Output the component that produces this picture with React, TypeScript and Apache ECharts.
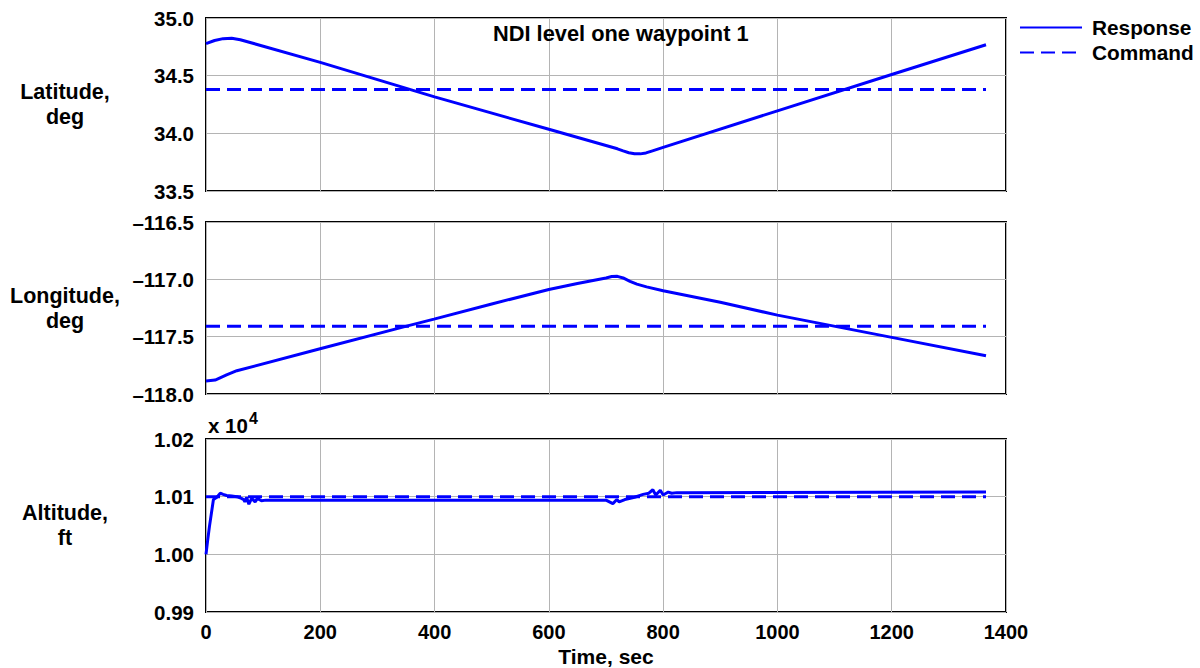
import React, { useEffect, useRef } from "react";
import * as echarts from "echarts";

// ---- Data ----
const xTicks = [0, 200, 400, 600, 800, 1000, 1200, 1400];

const latTime = [0, 15, 30, 45, 60, 200, 400, 600, 700, 720, 730, 740, 750, 760, 770, 780, 800, 1000, 1200, 1365];
const latResponse = [34.777, 34.805, 34.821, 34.824, 34.812, 34.615, 34.316, 34.035, 33.895, 33.866, 33.848, 33.832, 33.823, 33.822, 33.83, 33.846, 33.878, 34.195, 34.51, 34.768];
const latCmdTime = [0, 1365];
const latCommand = [34.38, 34.38];

const lonTime = [0, 16, 36, 54, 198, 351, 399, 500, 600, 650, 700, 710, 720, 730, 742, 754, 771, 800, 900, 1000, 1200, 1365];
const lonResponse = [-117.886, -117.878, -117.834, -117.797, -117.608, -117.408, -117.347, -117.215, -117.088, -117.036, -116.988, -116.976, -116.974, -116.988, -117.018, -117.042, -117.066, -117.1, -117.2, -117.312, -117.506, -117.666];
const lonCmdTime = [0, 1365];
const lonCommand = [-117.41, -117.41];

const altTime = [0, 3, 6, 13, 19, 25, 30, 36, 45, 54, 62, 66, 68, 71, 75, 80, 86, 90, 97, 105, 120, 700, 712, 719, 723, 733, 750, 765, 775, 782, 787, 795, 800, 809, 815, 824, 1365];
const altResponse = [10000, 10025, 10048, 10095, 10099, 10106, 10104, 10102, 10101, 10100, 10097, 10095, 10091, 10099, 10087, 10097, 10091, 10097, 10093, 10094, 10094, 10094, 10088, 10095, 10091, 10095, 10099, 10104, 10106, 10112, 10103, 10111, 10103, 10108, 10106, 10107, 10108];
const altCmdTime = [0, 1365];
const altCommand = [10100, 10100];

const FONT = "'Liberation Sans', Arial, Helvetica, sans-serif";
const BLUE = "#0000ff";

const zip = (t: number[], v: number[]) => t.map((x, i) => [x, v[i]]);

export default function App() {
  const ref = useRef<HTMLDivElement>(null);
  useEffect(() => {
    if (!ref.current) return;
    const chart = echarts.init(ref.current, undefined, { renderer: "svg" });

    const grids = [
      { left: 206, width: 800, top: 18, height: 173 },
      { left: 206, width: 800, top: 222, height: 172 },
      { left: 206, width: 800, top: 439, height: 173 },
    ].map((g) => ({ ...g, show: true, borderColor: "#000", borderWidth: 2, backgroundColor: "transparent" }));

    const xAxis = [0, 1, 2].map((i) => ({
      type: "value",
      gridIndex: i,
      min: xTicks[0],
      max: xTicks[xTicks.length - 1],
      interval: 200,
      axisLine: { show: false },
      axisTick: { show: false },
      splitLine: { show: true, lineStyle: { color: "#b4b4b4", width: 1 } },
      axisLabel: {
        show: i === 2,
        margin: 10,
        fontSize: 20,
        fontWeight: "bold",
        fontFamily: FONT,
        color: "#000",
        formatter: (v: number) => String(v),
      },
      name: i === 2 ? "Time, sec" : "",
      nameLocation: "middle",
      nameGap: 34,
      nameTextStyle: { fontSize: 21, fontWeight: "bold", fontFamily: FONT, color: "#000" },
    }));

    const yCommon = {
      type: "value",
      axisLine: { show: false },
      axisTick: { show: false },
      splitLine: { show: true, lineStyle: { color: "#b4b4b4", width: 1 } },
      nameLocation: "middle",
      nameRotate: 0,
      nameGap: 141,
      nameTextStyle: {
        fontSize: 21.5,
        fontWeight: "bold",
        fontFamily: FONT,
        color: "#000",
        align: "center",
        verticalAlign: "middle",
        lineHeight: 25,
      },
    };
    const labelStyle = { margin: 12, fontSize: 20.5, fontWeight: "bold", fontFamily: FONT, color: "#000" };

    const yAxis = [
      {
        ...yCommon,
        gridIndex: 0,
        min: 33.5,
        max: 35,
        interval: 0.5,
        name: "Latitude,\ndeg",
        axisLabel: { ...labelStyle, formatter: (v: number) => v.toFixed(1) },
      },
      {
        ...yCommon,
        gridIndex: 1,
        min: -118,
        max: -116.5,
        interval: 0.5,
        name: "Longitude,\ndeg",
        axisLabel: { ...labelStyle, formatter: (v: number) => v.toFixed(1).replace("-", "\u2013") },
      },
      {
        ...yCommon,
        gridIndex: 2,
        min: 9900,
        max: 10200,
        interval: 100,
        name: "Altitude,\nft",
        axisLabel: { ...labelStyle, formatter: (v: number) => (v / 10000).toFixed(2) },
      },
    ];

    const resp = (i: number, t: number[], v: number[]) => ({
      name: "Response",
      type: "line",
      xAxisIndex: i,
      yAxisIndex: i,
      data: zip(t, v),
      symbol: "none",
      smooth: false,
      lineStyle: { color: BLUE, width: 3 },
      itemStyle: { color: BLUE },
      z: 3,
    });
    const cmd = (i: number, t: number[], v: number[]) => ({
      name: "Command",
      type: "line",
      xAxisIndex: i,
      yAxisIndex: i,
      data: zip(t, v),
      symbol: "none",
      lineStyle: { color: BLUE, width: 3, type: [14, 7] },
      itemStyle: { color: BLUE },
      z: 2,
    });

    chart.setOption({
      animation: false,
      backgroundColor: "#fff",
      textStyle: { fontFamily: FONT },
      title: {
        text: "NDI level one waypoint 1",
        left: 493,
        top: 22,
        padding: 0,
        textStyle: { fontSize: 21.8, fontWeight: "bold", fontFamily: FONT, color: "#000" },
      },
      legend: {
        data: ["Response", "Command"],
        orient: "vertical",
        left: 1019,
        top: 17,
        padding: 0,
        itemWidth: 62,
        itemHeight: 14,
        itemGap: 4,
        itemStyle: { opacity: 0 },
        textStyle: { fontSize: 20.8, fontWeight: "bold", fontFamily: FONT, color: "#000", padding: [0, 0, 0, 5] },
      },
      grid: grids,
      xAxis,
      yAxis,
      graphic: [
        {
          type: "text",
          left: 208,
          top: 415,
          style: { text: "x 10", fontSize: 20.5, fontWeight: "bold", fontFamily: FONT, fill: "#000" },
        },
        {
          type: "text",
          left: 249,
          top: 410,
          style: { text: "4", fontSize: 16, fontWeight: "bold", fontFamily: FONT, fill: "#000" },
        },
      ],
      series: [
        resp(0, latTime, latResponse),
        cmd(0, latCmdTime, latCommand),
        resp(1, lonTime, lonResponse),
        cmd(1, lonCmdTime, lonCommand),
        resp(2, altTime, altResponse),
        cmd(2, altCmdTime, altCommand),
      ],
    });
    return () => chart.dispose();
  }, []);
  return <div ref={ref} style={{ position: "absolute", left: 0, top: 0, width: 1200, height: 668 }} />;
}
